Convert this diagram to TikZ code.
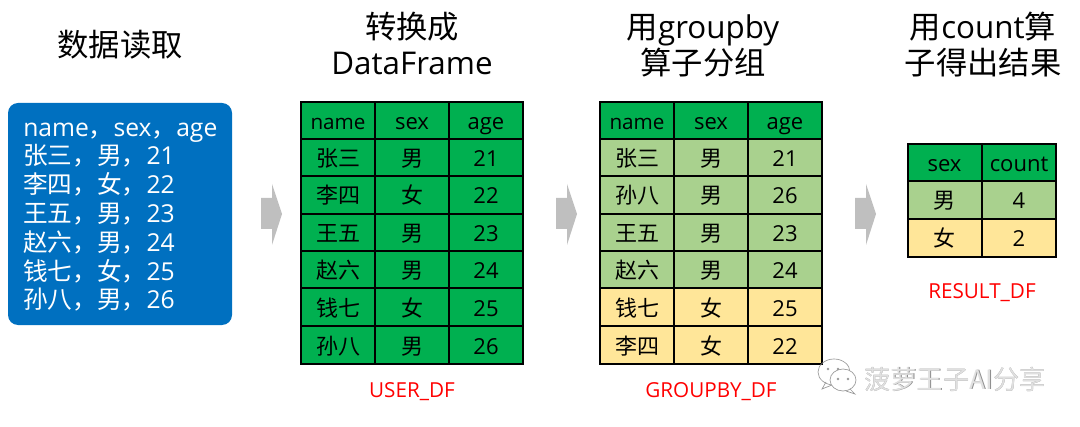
\documentclass[tikz,border=0pt]{standalone}
\usepackage{fontspec}
\setmainfont{Open Sans}
\newfontfamily\cjk{Noto Sans CJK SC}
\newcommand{\C}[1]{{\cjk #1}}
\definecolor{hdrgreen}{HTML}{00B050}
\definecolor{lightgreen}{HTML}{A9D18E}
\definecolor{lightyellow}{HTML}{FFE699}
\definecolor{boxblue}{HTML}{0070C0}
\definecolor{arrowgray}{HTML}{BFBFBF}
\newcommand{\fs}[1]{\fontsize{#1}{#1}\selectfont}
\tikzset{
  x=0.75pt,y=-0.75pt,
  cell/.style={draw=black,line width=1.5pt,minimum width=55.5pt,minimum height=28pt,inner sep=0pt,text=black,text height=17pt,text depth=3.5pt,font=\fs{16.5}},
  gcell/.style={cell,fill=hdrgreen},
  lgcell/.style={cell,fill=lightgreen},
  ycell/.style={cell,fill=lightyellow},
  title/.style={inner sep=0pt,text height=23pt,text depth=5pt,font=\fs{23.5},text=black},
  dflabel/.style={inner sep=0pt,text height=15pt,text depth=3.5pt,text=red,font=\fs{15.5}},
  blockarrow/.style={fill=arrowgray,draw=none},
  srcline/.style={anchor=west,inner sep=0pt,text height=18pt,text depth=4pt,text=white,font=\fs{18.5}},
}
\newcommand{\rowthree}[7]{%
  \node[#2] (#1a) at (#3,#7) {#4};
  \node[#2] (#1b) at (\numexpr#3+74\relax,#7) {#5};
  \node[#2] (#1c) at (\numexpr#3+148\relax,#7) {#6};}
\newcommand{\blockarrowat}[2]{%
  \fill[blockarrow] (#1,#2-16) -- (#1+11,#2-16) -- (#1+11,#2-30) -- (#1+21,#2) -- (#1+11,#2+31) -- (#1+11,#2+15) -- (#1,#2+15) -- cycle;}
\begin{document}
\begin{tikzpicture}
\useasboundingbox (0,0) rectangle (1080,427);
% titles
\node[title] (t1) at (120,45) {\C{数据读取}};
\node[title] (t2a) at (412,27) {\C{转换成}};
\node[title] (t2b) at (412,63) {DataFrame};
\node[title] (t3a) at (703,27) {\C{用}groupby};
\node[title] (t3b) at (703,63) {\C{算子分组}};
\node[title] (t4a) at (983,27) {\C{用}count\C{算}};
\node[title] (t4b) at (983,63) {\C{子得出结果}};
% source box
\fill[boxblue,rounded corners=7.5pt] (8,103) rectangle (232,325);
\node[srcline] (s0) at (23,127) {name\C{，}sex\C{，}age};
\node[srcline] (s1) at (23,155) {\C{张三，男，}21};
\node[srcline] (s2) at (23,184) {\C{李四，女，}22};
\node[srcline] (s3) at (23,213) {\C{王五，男，}23};
\node[srcline] (s4) at (23,242) {\C{赵六，男，}24};
\node[srcline] (s5) at (23,271) {\C{钱七，女，}25};
\node[srcline] (s6) at (23,299) {\C{孙八，男，}26};
% arrows
\blockarrowat{261}{214}
\blockarrowat{556}{214}
\blockarrowat{855}{214}
% table 1
\rowthree{u0}{gcell}{338}{{\fs{15.5}name}}{sex}{age}{121}
\rowthree{u1}{gcell}{338}{\C{张三}}{\C{男}}{21}{158}
\rowthree{u2}{gcell}{338}{\C{李四}}{\C{女}}{22}{195}
\rowthree{u3}{gcell}{338}{\C{王五}}{\C{男}}{23}{233}
\rowthree{u4}{gcell}{338}{\C{赵六}}{\C{男}}{24}{270}
\rowthree{u5}{gcell}{338}{\C{钱七}}{\C{女}}{25}{307}
\rowthree{u6}{gcell}{338}{\C{孙八}}{\C{男}}{26}{345}
% table 2
\rowthree{g0}{gcell}{637}{{\fs{15.5}name}}{sex}{age}{121}
\rowthree{g1}{lgcell}{637}{\C{张三}}{\C{男}}{21}{158}
\rowthree{g2}{lgcell}{637}{\C{孙八}}{\C{男}}{26}{195}
\rowthree{g3}{lgcell}{637}{\C{王五}}{\C{男}}{23}{233}
\rowthree{g4}{lgcell}{637}{\C{赵六}}{\C{男}}{24}{270}
\rowthree{g5}{ycell}{637}{\C{钱七}}{\C{女}}{25}{307}
\rowthree{g6}{ycell}{637}{\C{李四}}{\C{女}}{22}{345}
% table 3
\node[gcell] (r0a) at (944.5,163) {sex};
\node[gcell] (r0b) at (1019,163) {count};
\node[lgcell] (r1a) at (944.5,200) {\C{男}};
\node[lgcell] (r1b) at (1019,200) {4};
\node[ycell] (r2a) at (944.5,238) {\C{女}};
\node[ycell] (r2b) at (1019,238) {2};
% labels
\node[dflabel] (l1) at (412,390) {USER\_DF};
\node[dflabel] (l2) at (711,390) {GROUPBY\_DF};
\node[dflabel] (l3) at (982,291) {RESULT\_DF};
% watermark
\begin{scope}[draw=black!40,fill=white,line width=0.5pt]
  \draw (834,372) ellipse [x radius=16,y radius=13];
  \draw (826,382) -- (822,389) -- (832,385);
  \draw[fill=white] (843,380) ellipse [x radius=13,y radius=11];
  \draw (850,389) -- (855,394) -- (846,391);
  \fill[black!40] (828,369) circle [radius=1.3] (838,369) circle [radius=1.3];
  \fill[black!40] (838,379) circle [radius=1.3] (848,379) circle [radius=1.3];
\end{scope}
\node[inner sep=0pt,anchor=west,text=black!45,font=\fs{19.7}\cjk] (wm) at (864.7,379.7) {菠萝王子AI分享};
\node[inner sep=0pt,anchor=west,text=black!12,font=\fs{19.7}\cjk] (wmtop) at (864,379) {菠萝王子AI分享};
\end{tikzpicture}
\end{document}
